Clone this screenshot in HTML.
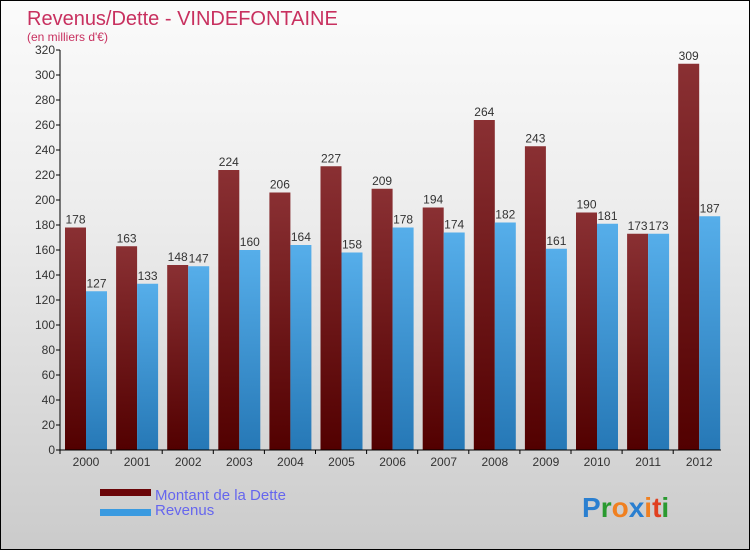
<!DOCTYPE html>
<html><head><meta charset="utf-8"><style>
body{margin:0}
#c{width:748px;height:548px;border:1px solid #000;background:linear-gradient(#fbfbfb,#ececec 40%,#cbcbcb);position:relative;font-family:"Liberation Sans",sans-serif;overflow:hidden}
</style></head><body>
<div id="c">
<svg width="748" height="548">
<defs>
<linearGradient id="gd" x1="0" y1="0" x2="0" y2="1"><stop offset="0" stop-color="#8a3033"/><stop offset="1" stop-color="#520000"/></linearGradient>
<linearGradient id="gr" x1="0" y1="0" x2="0" y2="1"><stop offset="0" stop-color="#56aeea"/><stop offset="1" stop-color="#2678b6"/></linearGradient>
</defs>
<text x="26" y="24" font-size="20" fill="#c8305f">Revenus/Dette - VINDEFONTAINE</text>
<text x="26" y="40" font-size="12" fill="#c8305f">(en milliers d'€)</text>
<g id="bars"></g>
<g id="axes"></g>
<rect x="99" y="488" width="51" height="7" fill="#6a0508"/>
<rect x="99" y="508" width="51" height="7" fill="#3a9ae0"/>
<text x="154" y="499" font-size="15" fill="#6666ee">Montant de la Dette</text>
<text x="154" y="514" font-size="15" fill="#6666ee">Revenus</text>
<text x="581" y="516" font-size="28" font-weight="bold"><tspan fill="#2a7fd0">P</tspan><tspan fill="#2a9a30">r</tspan><tspan fill="#f08020">o</tspan><tspan fill="#2a7fd0">x</tspan><tspan fill="#f08020">i</tspan><tspan fill="#e04020">t</tspan><tspan fill="#2a9a30">i</tspan></text>
</svg>
</div>
<script>
const years=["2000","2001","2002","2003","2004","2005","2006","2007","2008","2009","2010","2011","2012"];
const dette=[178,163,148,224,206,227,209,194,264,243,190,173,309];
const revenus=[127,133,147,160,164,158,178,174,182,161,181,173,187];
const yTicks=[0,20,40,60,80,100,120,140,160,180,200,220,240,260,280,300,320];
const NS="http://www.w3.org/2000/svg";
const y0=449,ppu=1.25,x0=59,step=51.1;
const yS=v=>y0-v*ppu;
const bars=document.getElementById('bars'),axes=document.getElementById('axes');
function mk(t,a,p){const e=document.createElementNS(NS,t);for(const k in a)e.setAttribute(k,a[k]);p.appendChild(e);return e;}
years.forEach((yr,i)=>{
 const gx=x0+5+i*step;
 const d=mk('rect',{x:gx,y:yS(dette[i]),width:21,height:dette[i]*ppu,fill:'url(#gd)'},bars);
 
 
 const r=mk('rect',{x:gx+21,y:yS(revenus[i]),width:21,height:revenus[i]*ppu,fill:'url(#gr)'},bars);
 
 
 const t1=mk('text',{x:gx+10.5,y:yS(dette[i])-4,'font-size':12,fill:'#333','text-anchor':'middle'},bars);t1.textContent=dette[i];
 
 
 const t2=mk('text',{x:gx+31.5,y:yS(revenus[i])-4,'font-size':12,fill:'#333','text-anchor':'middle'},bars);t2.textContent=revenus[i];
 
 
 const xl=mk('text',{x:gx+21,y:y0+16,'font-size':12,fill:'#333','text-anchor':'middle'},axes);xl.textContent=yr;
 
 
 mk('line',{x1:gx-5,x2:gx-5,y1:y0,y2:y0+4,stroke:'#000'},axes);
});
yTicks.forEach(v=>{
 mk('line',{x1:x0-4,x2:x0,y1:yS(v),y2:yS(v),stroke:'#000'},axes);
 const t=mk('text',{x:x0-5,y:yS(v)+4,'font-size':12,fill:'#333','text-anchor':'end'},axes);t.textContent=v;
 
 
});
const ya=mk('line',{x1:x0,x2:x0,y1:yS(320),y2:y0,stroke:'#000'},axes);


const xa=mk('line',{x1:x0,x2:720,y1:y0,y2:y0,stroke:'#000'},axes);


</script>
</body></html>
